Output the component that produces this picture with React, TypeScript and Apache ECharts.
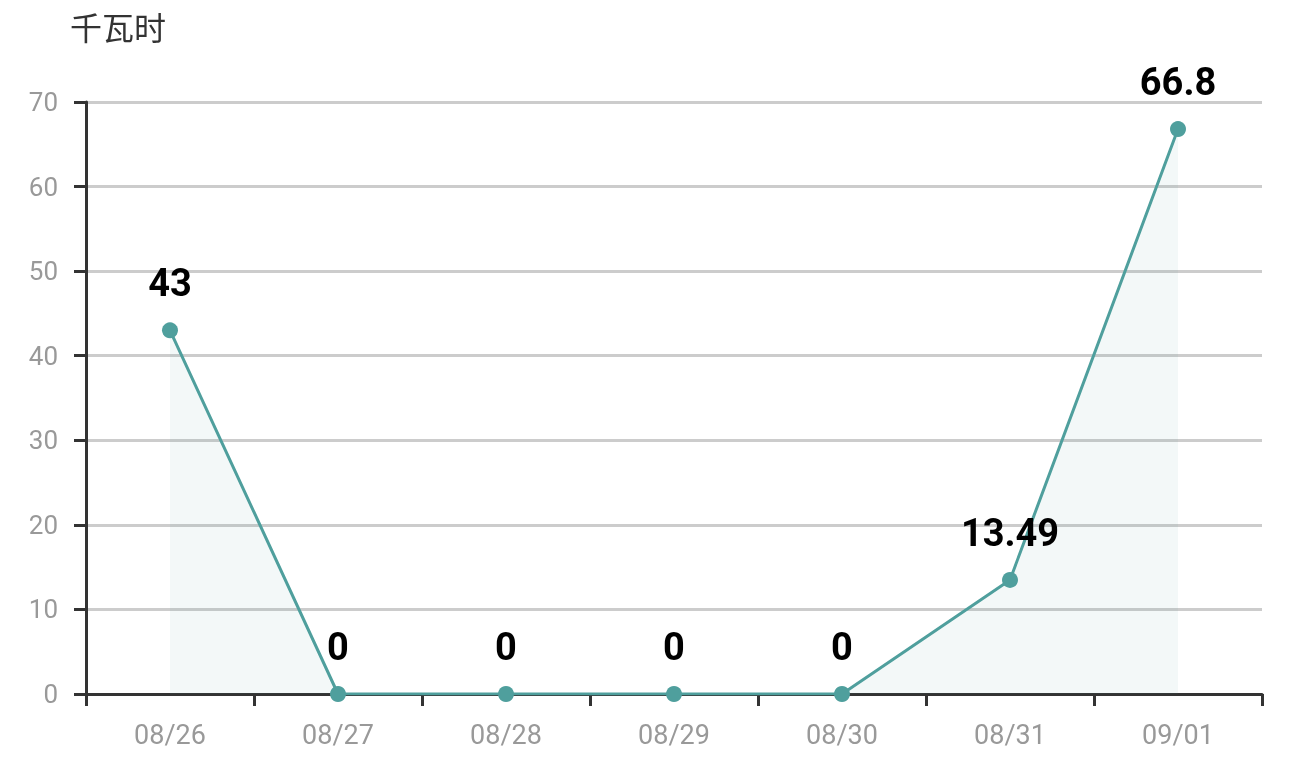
import React, { useEffect, useRef } from "react";
import * as echarts from "echarts";

const categories = ["08/26", "08/27", "08/28", "08/29", "08/30", "08/31", "09/01"];
const values = [43, 0, 0, 0, 0, 13.49, 66.8];
const unitLabel = "千瓦时";

export default function App() {
  const ref = useRef<HTMLDivElement>(null);
  useEffect(() => {
    document.body.style.margin = "0";
    const chart = echarts.init(ref.current!, null, { renderer: "svg" });
    chart.setOption({
      animation: false,
      title: {
        text: unitLabel,
        left: 70,
        top: 10,
        padding: 0,
        textStyle: { fontSize: 32, fontWeight: "normal", color: "#333", fontFamily: "Noto Sans CJK SC" },
      },
      grid: { left: 86, right: 50, top: 102, bottom: 73 },
      xAxis: {
        type: "category",
        data: categories,
        boundaryGap: true,
        axisLine: { lineStyle: { color: "#333", width: 3 } },
        axisTick: { show: true, length: 12, lineStyle: { color: "#333", width: 3 } },
        axisLabel: { color: "#999", fontSize: 27, margin: 27, fontFamily: "Roboto" },
      },
      yAxis: {
        type: "value",
        min: 0,
        max: 70,
        interval: 10,
        axisLine: { show: true, lineStyle: { color: "#333", width: 3 } },
        axisTick: { show: true, length: 12, lineStyle: { color: "#333", width: 3 } },
        axisLabel: { color: "#999", fontSize: 26, margin: 28, fontFamily: "Roboto" },
        splitLine: { lineStyle: { color: "#ccc", width: 3 } },
      },
      series: [
        {
          type: "line",
          data: values,
          symbol: "circle",
          symbolSize: 16,
          lineStyle: { color: "#4f9f9d", width: 3 },
          itemStyle: { color: "#4f9f9d" },
          areaStyle: { color: "rgba(79,159,157,0.1)" },
          label: {
            show: true,
            position: "top",
            distance: 20,
            color: "#000",
            fontSize: 38,
            fontWeight: "bold",
            fontFamily: "Roboto",
          },
        },
      ],
    });
    return () => chart.dispose();
  }, []);
  return <div ref={ref} style={{ position: "fixed", left: 0, top: 0, width: 1312, height: 767 }} />;
}
